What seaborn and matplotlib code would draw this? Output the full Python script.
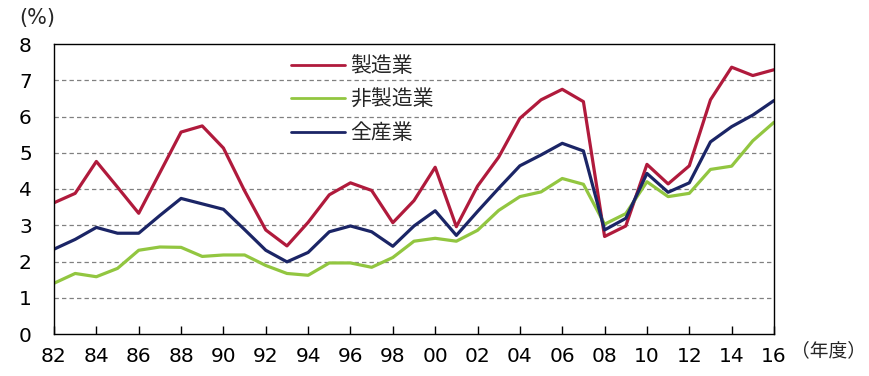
import matplotlib
matplotlib.use("Agg")
import matplotlib.pyplot as plt
import seaborn as sns
import pandas as pd
import numpy as np
from matplotlib.lines import Line2D

years = list(range(1982, 2017))
manufacturing = [3.62, 3.88, 4.76, 4.05, 3.33, 4.45, 5.57, 5.74, 5.13, 3.95,
                 2.87, 2.43, 3.08, 3.84, 4.17, 3.96, 3.07, 3.68, 4.60, 2.96,
                 4.08, 4.88, 5.95, 6.46, 6.75, 6.41, 2.69, 2.98, 4.68, 4.14,
                 4.64, 6.46, 7.36, 7.13, 7.29]
non_manufacturing = [1.40, 1.67, 1.58, 1.81, 2.31, 2.40, 2.39, 2.14, 2.18, 2.18,
                     1.89, 1.67, 1.62, 1.96, 1.96, 1.84, 2.11, 2.56, 2.64, 2.56,
                     2.86, 3.41, 3.79, 3.92, 4.29, 4.13, 3.03, 3.32, 4.20, 3.79,
                     3.88, 4.54, 4.63, 5.33, 5.84]
all_industries = [2.34, 2.61, 2.94, 2.78, 2.78, 3.27, 3.74, 3.59, 3.44, 2.88,
                  2.31, 1.99, 2.25, 2.82, 2.98, 2.82, 2.42, 2.98, 3.40, 2.72,
                  3.38, 4.02, 4.64, 4.94, 5.26, 5.05, 2.87, 3.19, 4.43, 3.91,
                  4.17, 5.30, 5.72, 6.04, 6.44]
series_names = ["製造業", "非製造業", "全産業"]
colors = ["#B01A3C", "#92C640", "#1B2566"]
x_ticks = list(range(1982, 2017, 2))
x_tick_labels = [f"{y % 100:02d}" for y in x_ticks]
y_ticks = list(range(0, 9))

df = pd.DataFrame({
    "year": years * 3,
    "value": manufacturing + non_manufacturing + all_industries,
    "series": [series_names[0]] * len(years) + [series_names[1]] * len(years)
              + [series_names[2]] * len(years),
})

sns.set_theme(style="white")
plt.rcParams["font.family"] = ["DejaVu Sans", "Noto Sans CJK JP"]

fig = plt.figure(figsize=(8.7, 3.76), dpi=100)
ax = fig.add_axes([54 / 870, 42 / 376, 720 / 870, 290 / 376])

sns.lineplot(data=df, x="year", y="value", hue="series", hue_order=series_names,
             palette=colors, linewidth=2.3, ax=ax, legend=False)

ax.set_xlim(1982, 2016)
ax.set_ylim(0, 8)
ax.set_xticks(x_ticks)
ax.set_xticklabels(x_tick_labels)
ax.set_yticks(y_ticks)
ax.set_xlabel("")
ax.set_ylabel("")
for yv in y_ticks[1:-1]:
    ax.axhline(yv, color="#808080", linestyle=(0, (3.5, 2.5)), linewidth=0.9, zorder=0)

for sp in ax.spines.values():
    sp.set_color("black")
    sp.set_linewidth(1.0)
    sp.set_visible(True)

ax.tick_params(axis="x", direction="in", length=6, width=1, colors="black",
               labelsize=14.5, pad=9, bottom=True)
ax.tick_params(axis="y", length=0, labelsize=14.5, pad=16, colors="black")

handles = [Line2D([0], [0], color=c, linewidth=2.0) for c in colors]
leg = ax.legend(handles, series_names, loc="upper left",
                bbox_to_anchor=(0.318, 0.99), frameon=False,
                prop={"family": ["Noto Sans CJK JP", "DejaVu Sans"], "size": 15},
                handlelength=2.6, handletextpad=0.25, labelspacing=0.55,
                borderaxespad=0)

fig.text(19 / 870, 1 - 18 / 376, "(%)", fontsize=15, va="center", ha="left",
         family=["DejaVu Sans"])
fig.text(866 / 870, 1 - 351 / 376, "（年度）", fontsize=13.5, va="center", ha="right",
         family=["Noto Sans CJK JP", "DejaVu Sans"])

fig.savefig("out.png", dpi=100)
